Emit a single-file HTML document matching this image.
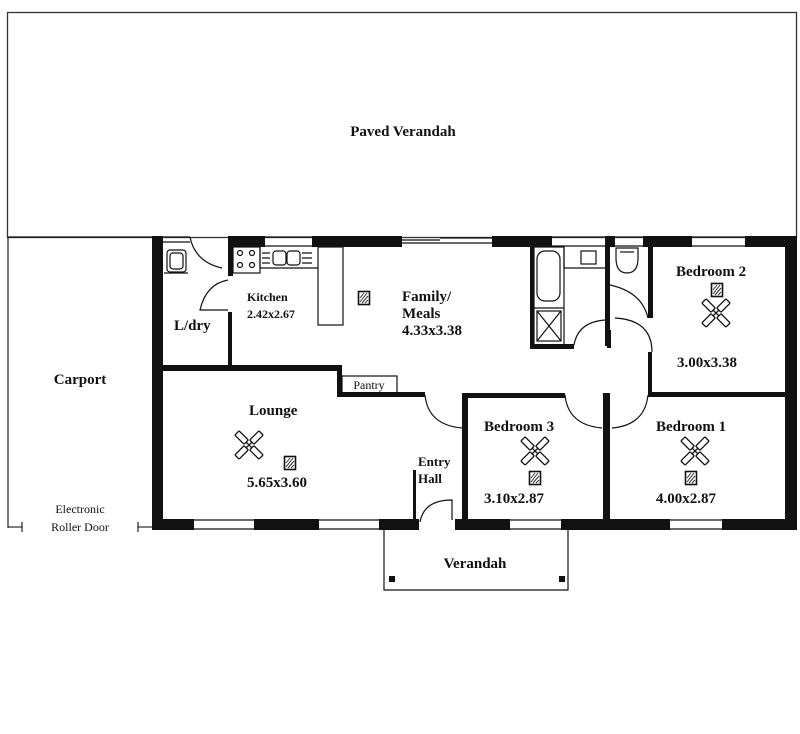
<!DOCTYPE html>
<html><head><meta charset="utf-8"><style>
html,body{margin:0;padding:0;background:#fff;}
svg{display:block;}
text{font-family:"Liberation Serif",serif;font-weight:bold;fill:#111;}
</style></head><body>
<svg width="800" height="734" viewBox="0 0 800 734" xmlns="http://www.w3.org/2000/svg">
<defs>
<g id="fan" stroke="#111" stroke-width="1.3" fill="#fff">
<g transform="rotate(45)"><rect x="-17" y="-3" width="13" height="6" rx="1"/><rect x="4" y="-3" width="13" height="6" rx="1"/><line x1="-4" y1="0" x2="4" y2="0"/></g>
<g transform="rotate(-45)"><rect x="-17" y="-3" width="13" height="6" rx="1"/><rect x="4" y="-3" width="13" height="6" rx="1"/><line x1="-4" y1="0" x2="4" y2="0"/></g>
</g>
<g id="sq"><rect x="-5.5" y="-6.5" width="11" height="13" fill="#fff" stroke="#111" stroke-width="1.6"/>
<path d="M-4 0 L0 -5 M-4 4 L3 -5 M-2 5 L4 -2 M1 5 L4 2" stroke="#333" stroke-width="1"/></g>
</defs>
<!-- paved verandah -->
<rect x="7.5" y="12.5" width="789" height="225" fill="none" stroke="#333" stroke-width="1.3"/>
<text x="403" y="136" font-size="15" text-anchor="middle">Paved Verandah</text>
<!-- carport -->
<line x1="8" y1="237" x2="8" y2="528" stroke="#333" stroke-width="1.3"/>
<text x="80" y="384" font-size="15" text-anchor="middle">Carport</text>
<text x="80" y="513" font-size="12" text-anchor="middle" style="font-weight:normal" fill="#333">Electronic</text>
<text x="80" y="531" font-size="12" text-anchor="middle" style="font-weight:normal" fill="#333">Roller Door</text>
<path d="M8 527 H22 M22 522 V532 M138 527 H152 M138 522 V532" stroke="#333" stroke-width="1.3"/>

<g fill="#111">
<!-- outer walls -->
<rect x="152" y="236" width="11" height="294"/>
<rect x="785" y="236" width="12" height="294"/>
<!-- top wall -->
<rect x="228" y="236" width="37" height="11"/>
<rect x="312" y="236" width="90" height="11"/>
<rect x="492" y="236" width="60" height="11"/>
<rect x="605" y="236" width="10" height="11"/>
<rect x="643" y="236" width="49" height="11"/>
<rect x="745" y="236" width="45" height="11"/>
<!-- bottom wall -->
<rect x="152" y="519" width="42" height="11"/>
<rect x="254" y="519" width="65" height="11"/>
<rect x="379" y="519" width="40" height="11"/>
<rect x="455" y="519" width="55" height="11"/>
<rect x="561" y="519" width="109" height="11"/>
<rect x="722" y="519" width="75" height="11"/>
<!-- interior walls -->
<rect x="162" y="365" width="180" height="6"/>
<rect x="337" y="365" width="5" height="32"/>
<rect x="337" y="392" width="88" height="5"/>
<rect x="228" y="246" width="5" height="30"/>
<rect x="228" y="312" width="4" height="55"/>
<rect x="462" y="393" width="6" height="128"/>
<rect x="462" y="393" width="103" height="5"/>
<rect x="603" y="393" width="7" height="128"/>
<rect x="603" y="393" width="7" height="0"/>
<rect x="648" y="392" width="140" height="5"/>
<rect x="413" y="470" width="3" height="50"/>
<rect x="530" y="246" width="4" height="103"/>
<rect x="530" y="344" width="44" height="5"/>
<rect x="605" y="246" width="5" height="100"/>
<rect x="607" y="330" width="4" height="18"/>
<rect x="648" y="246" width="5" height="72"/>
<rect x="648" y="352" width="4" height="42"/>
</g>
<g fill="none" stroke="#111" stroke-width="1.2">
<!-- thin top lines / windows -->
<path d="M8 237 H152"/>
<path d="M163 237 H190 M163 242 H190"/>
<path d="M265 237 H312 M265 246 H312"/>
<path d="M402 240 H440 M440 238 H492 M402 243 H492"/>
<path d="M552 237 H605 M552 246 H605 M615 237 H643 M615 246 H643 M692 237 H745 M692 246 H745"/>
<path d="M194 520 H254 M194 529 H254 M319 520 H379 M319 529 H379 M510 520 H561 M510 529 H561 M670 520 H722 M670 529 H722"/>
<!-- laundry tub -->
<rect x="167" y="250" width="19" height="22" rx="3"/><rect x="170" y="253" width="13" height="16" rx="3"/>
<path d="M164 273 H188"/>
<!-- laundry door -->
<path d="M190 237 Q195 262 222 268"/>
<path d="M228 280 Q206 284 200 310 H228"/>
<!-- kitchen -->
<rect x="233" y="247" width="27" height="26"/>
<circle cx="240" cy="253" r="2.5"/><circle cx="252" cy="253" r="2.5"/><circle cx="240" cy="265" r="2.5"/><circle cx="252" cy="265" r="2.5"/>
<path d="M260 247 V268 M260 268 H318"/>
<rect x="273" y="251" width="13" height="14" rx="3"/><rect x="287" y="251" width="13" height="14" rx="3"/>
<path d="M262 253 H270 M262 258 H270 M262 263 H270 M302 253 H312 M302 258 H312 M302 263 H312"/>
<rect x="318" y="247" width="25" height="78"/>
<!-- pantry -->
<rect x="342" y="376" width="55" height="17"/>
<!-- bathroom -->
<rect x="534" y="247" width="30" height="98"/>
<rect x="537" y="251" width="23" height="50" rx="8"/>
<path d="M534 308 H564 M537 311 L561 341 M561 311 L537 341"/>
<rect x="537" y="311" width="24" height="30"/>
<path d="M564 247 V268 H605"/><rect x="581" y="251" width="15" height="13"/>
<path d="M616 248 V258 Q616 273 627 273 Q638 273 638 258 V248 Z"/>
<path d="M620 252 H634"/>
<!-- hallway doors -->
<path d="M574 345 Q578 322 605 320"/>
<path d="M610 285 Q642 292 648 318"/>
<path d="M652 352 Q652 320 615 318"/>
<!-- lounge/hall door -->
<path d="M425 395 Q428 425 462 428"/>
<!-- bedroom3 door -->
<path d="M565 395 Q568 425 602 428"/>
<!-- bedroom1 door -->
<path d="M648 395 Q645 425 612 428"/>
<!-- entry door -->
<path d="M452 520 V500 Q424 500 420 522" />
<!-- verandah -->
<path d="M384 530 V590 H568 V530"/>
</g>
<rect x="389" y="576" width="6" height="6" fill="#111"/>
<rect x="559" y="576" width="6" height="6" fill="#111"/>

<!-- ceiling icons -->
<use href="#sq" x="364" y="298"/>
<use href="#sq" x="717" y="290"/>
<use href="#fan" x="716" y="313"/>
<use href="#fan" x="249" y="445"/>
<use href="#sq" x="290" y="463"/>
<use href="#fan" x="535" y="451"/>
<use href="#sq" x="535" y="478"/>
<use href="#fan" x="695" y="451"/>
<use href="#sq" x="691" y="478"/>

<!-- labels -->
<text x="247" y="301" font-size="12">Kitchen</text>
<text x="247" y="318" font-size="12">2.42x2.67</text>
<text x="174" y="330" font-size="15">L/dry</text>
<text x="402" y="301" font-size="15">Family/</text>
<text x="402" y="318" font-size="15">Meals</text>
<text x="402" y="335" font-size="15">4.33x3.38</text>
<text x="369" y="389" font-size="12" text-anchor="middle" style="font-weight:normal">Pantry</text>
<text x="676" y="276" font-size="15">Bedroom 2</text>
<text x="677" y="367" font-size="15">3.00x3.38</text>
<text x="249" y="415" font-size="15">Lounge</text>
<text x="247" y="487" font-size="15">5.65x3.60</text>
<text x="418" y="466" font-size="13">Entry</text>
<text x="418" y="483" font-size="13">Hall</text>
<text x="484" y="431" font-size="15">Bedroom 3</text>
<text x="484" y="503" font-size="15">3.10x2.87</text>
<text x="656" y="431" font-size="15">Bedroom 1</text>
<text x="656" y="503" font-size="15">4.00x2.87</text>
<text x="475" y="568" font-size="15" text-anchor="middle">Verandah</text>
</svg>
</body></html>
